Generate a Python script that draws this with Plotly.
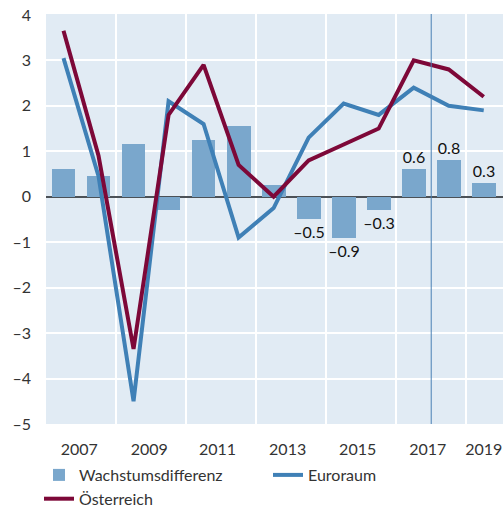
import plotly.graph_objects as go

years = list(range(2007, 2020))
wachstumsdifferenz = [0.6, 0.45, 1.15, -0.3, 1.25, 1.55, 0.25, -0.5, -0.9, -0.3, 0.6, 0.8, 0.3]
bar_labels = ["", "", "", "", "", "", "", "–0.5", "–0.9", "–0.3", "0.6", "0.8", "0.3"]
euroraum = [3.05, 0.45, -4.5, 2.1, 1.6, -0.9, -0.25, 1.3, 2.05, 1.8, 2.4, 2.0, 1.9]
oesterreich = [3.65, 0.9, -3.35, 1.8, 2.9, 0.7, 0.0, 0.8, 1.15, 1.5, 3.0, 2.8, 2.2]

x_tick_vals = [2007.45, 2009.45, 2011.4, 2013.4, 2015.4, 2017.4, 2019.0]
x_tick_text = ["2007", "2009", "2011", "2013", "2015", "2017", "2019"]
x_grid_vals = [2008.5, 2010.5, 2012.5, 2014.5, 2016.5, 2018.5]
y_tick_vals = [4, 3, 2, 1, 0, -1, -2, -3, -4, -5]
y_tick_text = ["4", "3", "2", "1", "0", "–1", "–2", "–3", "–4", "–5"]
forecast_start = 2017.5

FONT = "Lato, 'Open Sans', sans-serif"
W, H = 504, 508

fig = go.Figure()
fig.add_trace(go.Bar(
    x=years, y=wachstumsdifferenz, name="Wachstumsdifferenz",
    marker=dict(color="#7aa7cc", line=dict(width=0)), width=0.68,
    text=bar_labels, textposition="outside", cliponaxis=False, constraintext="none",
    textfont=dict(size=16, color="#111111", family=FONT),
))
fig.add_trace(go.Scatter(
    x=years, y=euroraum, name="Euroraum", mode="lines",
    line=dict(color="#3f80b6", width=4),
))
fig.add_trace(go.Scatter(
    x=years, y=oesterreich, name="Österreich", mode="lines",
    line=dict(color="#7d0838", width=4),
))

fig.add_shape(type="line", xref="x", yref="paper", x0=forecast_start, x1=forecast_start,
              y0=0, y1=1, line=dict(color="#4a80b5", width=1))

fig.update_layout(
    width=W, height=H,
    margin=dict(l=46, r=1, t=14, b=84, autoexpand=False),
    paper_bgcolor="white", plot_bgcolor="#e1ebf4",
    font=dict(family=FONT, size=16, color="#333333"),
    showlegend=True,
    bargap=0,
    legend=dict(orientation="h", xref="container", yref="container",
                x=39 / W, xanchor="left", y=1 - 458 / H, yanchor="top",
                entrywidth=184, entrywidthmode="pixels",
                font=dict(size=16, color="#333333"), tracegroupgap=0,
                itemwidth=30, bgcolor="rgba(0,0,0,0)"),
    xaxis=dict(range=[2006.5, 2019.55], tickmode="array", tickvals=x_tick_vals,
               ticktext=x_tick_text, showgrid=False, zeroline=False,
               ticks="", ticklabelstandoff=14, showline=False, automargin=False,
               minor=dict(tickmode="array", tickvals=x_grid_vals, showgrid=True,
                          gridcolor="white", gridwidth=1.5, ticks="")),
    yaxis=dict(range=[-5, 4.02], tickmode="array", tickvals=y_tick_vals,
               ticktext=y_tick_text, showgrid=True, gridcolor="white", gridwidth=1.5,
               zeroline=True, zerolinecolor="#4b5157", zerolinewidth=2,
               ticks="", ticklabelstandoff=14, showline=False, automargin=False),
)

fig.write_html(
    "out.html",
    config={"displayModeBar": False},
    post_script="document.body.style.margin='0';document.body.style.overflow='hidden';",
)
